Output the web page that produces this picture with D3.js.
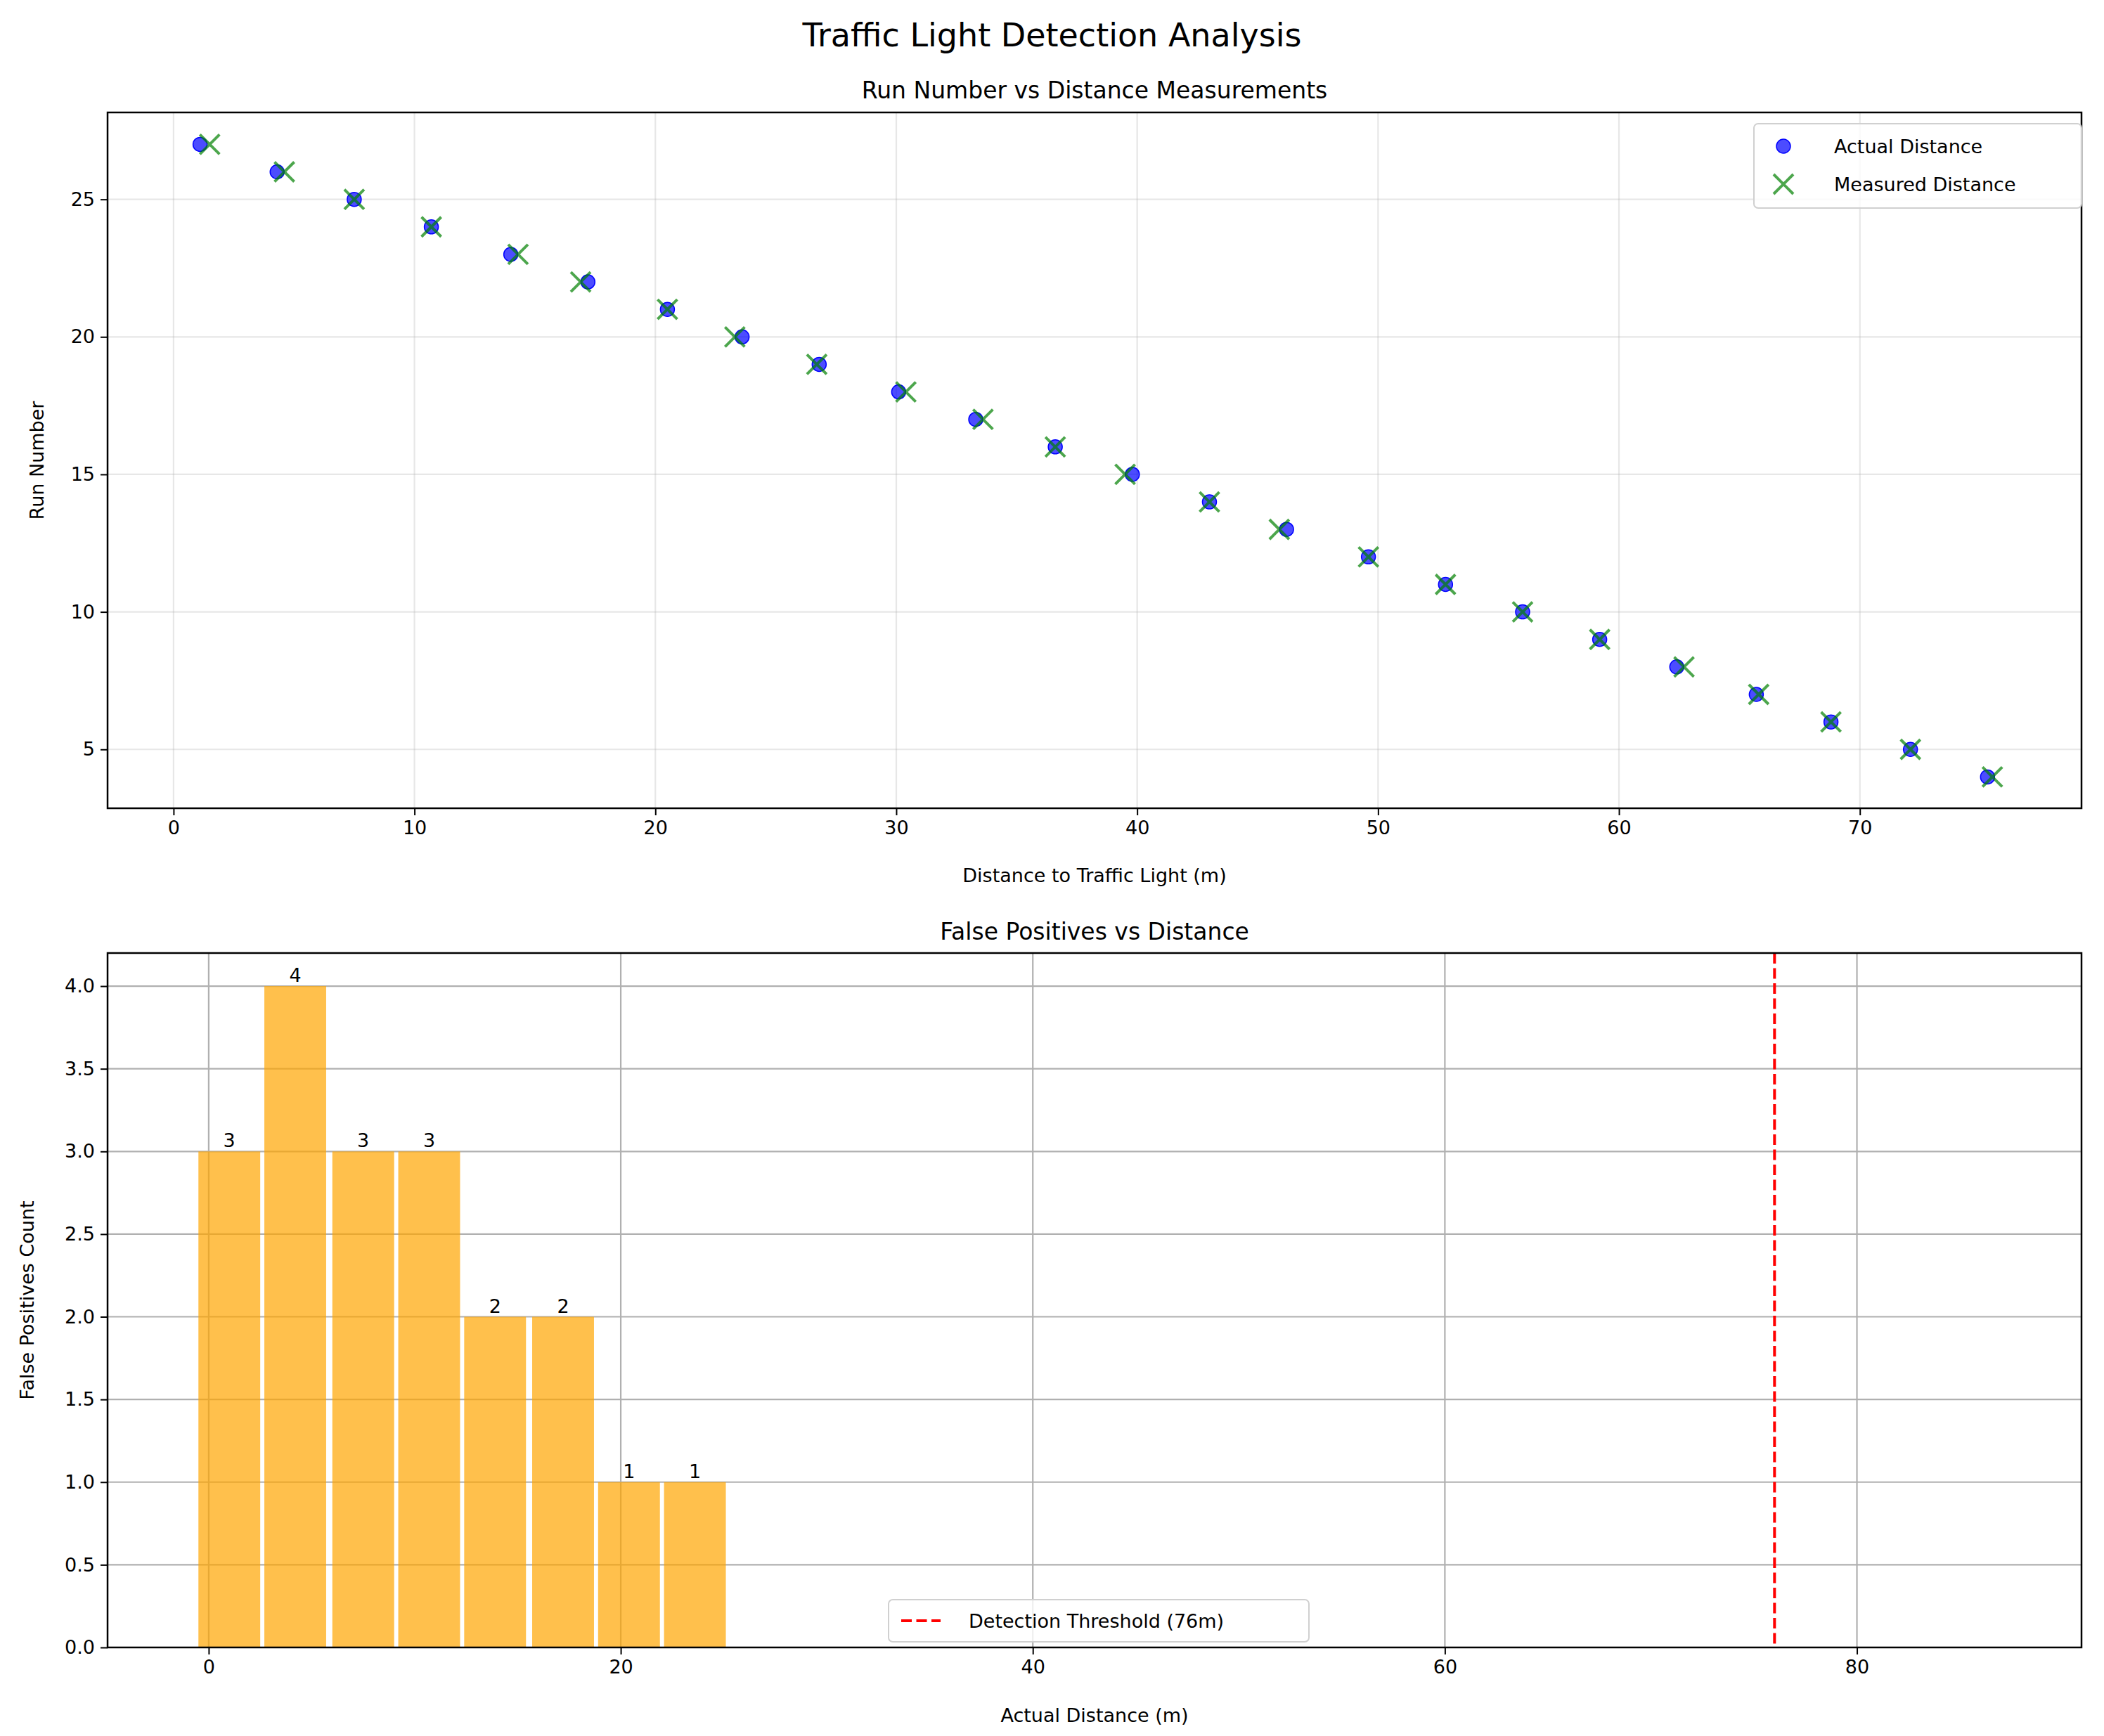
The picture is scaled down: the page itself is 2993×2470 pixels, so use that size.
<!DOCTYPE html>
<html>
<head>
<meta charset="utf-8">
<script src="https://cdn.jsdelivr.net/npm/d3@7"></script>
<style>
  body { margin: 0; background: #fff; }
  text { font-family: "DejaVu Sans", sans-serif; }
</style>
</head>
<body>
<div id="chart"></div>
<script>
const width = 2993;
const height = 2470;

// top panel data
const runs = [27, 26, 25, 24, 23, 22, 21, 20, 19, 18, 17, 16, 15, 14, 13, 12, 11, 10, 9, 8, 7, 6, 5, 4];
const actualDist = [1.1, 4.3, 7.5, 10.7, 14.0, 17.2, 20.5, 23.6, 26.8, 30.1, 33.3, 36.6, 39.8, 43.0, 46.2, 49.6, 52.8, 56.0, 59.2, 62.4, 65.7, 68.8, 72.1, 75.3];
const measuredDist = [1.5, 4.6, 7.5, 10.7, 14.3, 16.9, 20.5, 23.3, 26.7, 30.4, 33.6, 36.6, 39.5, 43.0, 45.9, 49.6, 52.8, 56.0, 59.2, 62.7, 65.8, 68.8, 72.1, 75.5];

// bottom panel data
const fpDist = [1.0, 4.2, 7.5, 10.7, 13.9, 17.2, 20.4, 23.6];
const fpCount = [3, 4, 3, 3, 2, 2, 1, 1];
const threshold = 76;

const svg = d3.select('#chart').append('svg')
  .attr('width', width).attr('height', height);

svg.append('text').attr('x', width / 2).attr('y', 66)
  .attr('text-anchor', 'middle').attr('font-size', 46).text('Traffic Light Detection Analysis');

// ---------- top: scatter ----------
const t = {left: 153, right: 2961, top: 160, bottom: 1150};
const x1 = d3.scaleLinear().domain([-2.74, 79.2]).range([t.left, t.right]);
const y1 = d3.scaleLinear().domain([2.86, 28.16]).range([t.bottom, t.top]);
const g1 = svg.append('g');

g1.append('g').selectAll('line').data(x1.ticks(8)).join('line')
  .attr('x1', d => x1(d)).attr('x2', d => x1(d)).attr('y1', t.top).attr('y2', t.bottom)
  .attr('stroke', '#b0b0b0').attr('stroke-opacity', 0.3).attr('stroke-width', 2.2);
g1.append('g').selectAll('line').data([5, 10, 15, 20, 25]).join('line')
  .attr('y1', d => y1(d)).attr('y2', d => y1(d)).attr('x1', t.left).attr('x2', t.right)
  .attr('stroke', '#b0b0b0').attr('stroke-opacity', 0.3).attr('stroke-width', 2.2);

g1.append('g').attr('transform', `translate(0,${t.bottom})`)
  .call(d3.axisBottom(x1).ticks(8).tickSize(10).tickPadding(8))
  .call(a => a.select('.domain').remove())
  .attr('font-size', 27).call(a => a.selectAll('line').attr('stroke-width', 2));
g1.append('g').attr('transform', `translate(${t.left},0)`)
  .call(d3.axisLeft(y1).tickValues([5, 10, 15, 20, 25]).tickSize(10).tickPadding(8))
  .call(a => a.select('.domain').remove())
  .attr('font-size', 27).call(a => a.selectAll('line').attr('stroke-width', 2));

g1.selectAll('circle').data(runs).join('circle')
  .attr('cx', (d, i) => x1(actualDist[i])).attr('cy', d => y1(d)).attr('r', 10)
  .attr('fill', 'blue').attr('fill-opacity', 0.7).attr('stroke', 'blue').attr('stroke-width', 1.5);

const xs = 14;
g1.selectAll('path.mx').data(runs).join('path').attr('class', 'mx')
  .attr('d', (d, i) => {
    const cx = x1(measuredDist[i]), cy = y1(d);
    return `M${cx - xs},${cy - xs}L${cx + xs},${cy + xs}M${cx - xs},${cy + xs}L${cx + xs},${cy - xs}`;
  })
  .attr('stroke', 'green').attr('stroke-opacity', 0.7).attr('stroke-width', 4);

g1.append('rect').attr('x', t.left).attr('y', t.top).attr('width', t.right - t.left).attr('height', t.bottom - t.top)
  .attr('fill', 'none').attr('stroke', '#000').attr('stroke-width', 2.5);

svg.append('text').attr('x', (t.left + t.right) / 2).attr('y', 140).attr('text-anchor', 'middle')
  .attr('font-size', 33).text('Run Number vs Distance Measurements');
svg.append('text').attr('x', (t.left + t.right) / 2).attr('y', 1255).attr('text-anchor', 'middle')
  .attr('font-size', 27).text('Distance to Traffic Light (m)');
svg.append('text').attr('transform', `translate(62,${(t.top + t.bottom) / 2}) rotate(-90)`)
  .attr('text-anchor', 'middle').attr('font-size', 27).text('Run Number');

// legend top
const lg = svg.append('g').attr('transform', 'translate(2495,176)');
lg.append('rect').attr('width', 466).attr('height', 120).attr('rx', 6)
  .attr('fill', '#fff').attr('fill-opacity', 0.8).attr('stroke', '#d0d0d0').attr('stroke-width', 2);
lg.append('circle').attr('cx', 42).attr('cy', 32).attr('r', 10)
  .attr('fill', 'blue').attr('fill-opacity', 0.7).attr('stroke', 'blue').attr('stroke-width', 1.5);
lg.append('path').attr('d', `M${42 - xs},${86 - xs}L${42 + xs},${86 + xs}M${42 - xs},${86 + xs}L${42 + xs},${86 - xs}`)
  .attr('stroke', 'green').attr('stroke-opacity', 0.7).attr('stroke-width', 4);
lg.append('text').attr('x', 114).attr('y', 42).attr('font-size', 27).text('Actual Distance');
lg.append('text').attr('x', 114).attr('y', 96).attr('font-size', 27).text('Measured Distance');

// ---------- bottom: bars ----------
const b = {left: 153, right: 2961, top: 1356, bottom: 2344};
const x2 = d3.scaleLinear().domain([-4.91, 90.9]).range([b.left, b.right]);
const y2 = d3.scaleLinear().domain([0, 4.2]).range([b.bottom, b.top]);
const g2 = svg.append('g');

g2.append('g').selectAll('line').data([0, 20, 40, 60, 80]).join('line')
  .attr('x1', d => x2(d)).attr('x2', d => x2(d)).attr('y1', b.top).attr('y2', b.bottom)
  .attr('stroke', '#b0b0b0').attr('stroke-width', 2.2);
g2.append('g').selectAll('line').data(d3.range(0, 4.01, 0.5)).join('line')
  .attr('y1', d => y2(d)).attr('y2', d => y2(d)).attr('x1', b.left).attr('x2', b.right)
  .attr('stroke', '#b0b0b0').attr('stroke-width', 2.2);

g2.selectAll('rect.bar').data(fpCount).join('rect').attr('class', 'bar')
  .attr('x', (d, i) => x2(fpDist[i] - 1.5)).attr('width', x2(3) - x2(0))
  .attr('y', d => y2(d)).attr('height', d => y2(0) - y2(d))
  .attr('fill', 'orange').attr('fill-opacity', 0.7);
g2.selectAll('text.lbl').data(fpCount).join('text').attr('class', 'lbl')
  .attr('x', (d, i) => x2(fpDist[i])).attr('y', d => y2(d) - 6)
  .attr('text-anchor', 'middle').attr('font-size', 27).text(d => d);

g2.append('line').attr('x1', x2(threshold)).attr('x2', x2(threshold)).attr('y1', b.top).attr('y2', b.bottom)
  .attr('stroke', 'red').attr('stroke-width', 4).attr('stroke-dasharray', '15,6.5');

g2.append('g').attr('transform', `translate(0,${b.bottom})`)
  .call(d3.axisBottom(x2).tickValues([0, 20, 40, 60, 80]).tickSize(10).tickPadding(8))
  .call(a => a.select('.domain').remove())
  .attr('font-size', 27).call(a => a.selectAll('line').attr('stroke-width', 2));
g2.append('g').attr('transform', `translate(${b.left},0)`)
  .call(d3.axisLeft(y2).tickValues(d3.range(0, 4.01, 0.5)).tickFormat(d3.format('.1f')).tickSize(10).tickPadding(8))
  .call(a => a.select('.domain').remove())
  .attr('font-size', 27).call(a => a.selectAll('line').attr('stroke-width', 2));

g2.append('rect').attr('x', b.left).attr('y', b.top).attr('width', b.right - b.left).attr('height', b.bottom - b.top)
  .attr('fill', 'none').attr('stroke', '#000').attr('stroke-width', 2.5);

svg.append('text').attr('x', (b.left + b.right) / 2).attr('y', 1337).attr('text-anchor', 'middle')
  .attr('font-size', 33).text('False Positives vs Distance');
svg.append('text').attr('x', (b.left + b.right) / 2).attr('y', 2450).attr('text-anchor', 'middle')
  .attr('font-size', 27).text('Actual Distance (m)');
svg.append('text').attr('transform', `translate(48,${(b.top + b.bottom) / 2}) rotate(-90)`)
  .attr('text-anchor', 'middle').attr('font-size', 27).text('False Positives Count');

// legend bottom
const lg2 = svg.append('g').attr('transform', 'translate(1264,2276)');
lg2.append('rect').attr('width', 598).attr('height', 60).attr('rx', 6)
  .attr('fill', '#fff').attr('fill-opacity', 0.8).attr('stroke', '#d0d0d0').attr('stroke-width', 2);
lg2.append('line').attr('x1', 18).attr('x2', 74).attr('y1', 30).attr('y2', 30)
  .attr('stroke', 'red').attr('stroke-width', 4).attr('stroke-dasharray', '15,6.5');
lg2.append('text').attr('x', 114).attr('y', 40).attr('font-size', 27).text('Detection Threshold (76m)');
</script>
</body>
</html>
